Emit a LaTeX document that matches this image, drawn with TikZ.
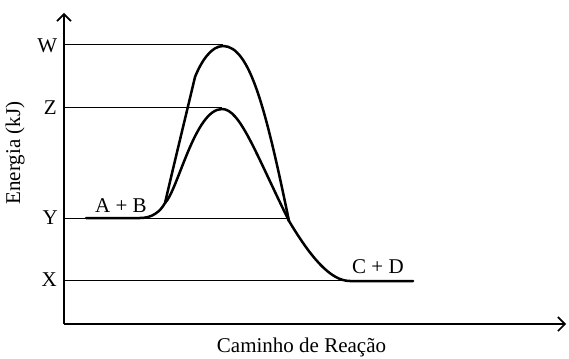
\documentclass[tikz,border=0pt]{standalone}
\usepackage{fontspec}
\setmainfont{Liberation Serif}
\usetikzlibrary{arrows.meta}
\begin{document}
\begin{tikzpicture}[x=1pt,y=-1pt,
  lbl/.style={inner sep=0pt,font=\fontsize{21}{24}\selectfont},
  axis/.style={line width=1.4pt,-{Straight Barb[length=7pt,width=14pt,line width=1.6pt]}},
  level/.style={line width=1pt},
  curve/.style={line width=2.5pt,line join=round,line cap=round}]
\useasboundingbox (0,0) rectangle (569,358);
% axes
\coordinate (O) at (64,324);
\coordinate (ytop) at (64,13);
\coordinate (xend) at (566,324);
\draw[axis] (O) -- (ytop);
\draw[axis] (O) -- (xend);
% level lines
\coordinate (w0) at (64,45);  \coordinate (w1) at (223,45);
\coordinate (z0) at (64,108); \coordinate (z1) at (222,108);
\coordinate (y0) at (64,218); \coordinate (y1) at (288,218);
\coordinate (x0) at (64,280); \coordinate (x1) at (350,280);
\draw[level] (w0) -- (w1);
\draw[level] (z0) -- (z1);
\draw[level] (y0) -- (y1);
\draw[level] (x0) -- (x1);
% labels
\node[lbl,anchor=base east] (W) at (57.5,53) {W};
\node[lbl,anchor=base east] (Z) at (57,115) {Z};
\node[lbl,anchor=base east] (Y) at (58,224.5) {Y};
\node[lbl,anchor=base east] (X) at (57,286) {X};
\node[lbl,anchor=base west] (AB) at (95,212) {A + B};
\node[lbl,anchor=base west] (CD) at (352,273) {C + D};
\node[lbl,rotate=90] (E) at (15,153) {Energia (kJ)};
\node[lbl,anchor=base] (C) at (301.5,352) {Caminho de Reação};
% curves
\coordinate (s) at (86,218);
\coordinate (sp) at (165,203);
\coordinate (k) at (195,77);
\coordinate (pw) at (223,46);
\coordinate (pz) at (222,109);
\coordinate (j) at (289,221);
\coordinate (e) at (350,281);
\coordinate (f) at (413,281);
\draw[curve] (s) -- (140,218) .. controls (152,218) and (160,212) .. (sp)
  .. controls (175,160) and (186,115) .. (k)
  .. controls (201,62) and (211,46) .. (pw)
  .. controls (250,46) and (266,110) .. (j)
  .. controls (310,256) and (330,281) .. (e) -- (f);
\draw[curve] (sp) .. controls (178,190) and (195,109) .. (pz)
  .. controls (240,109) and (255,152) .. (j);
\end{tikzpicture}
\end{document}
